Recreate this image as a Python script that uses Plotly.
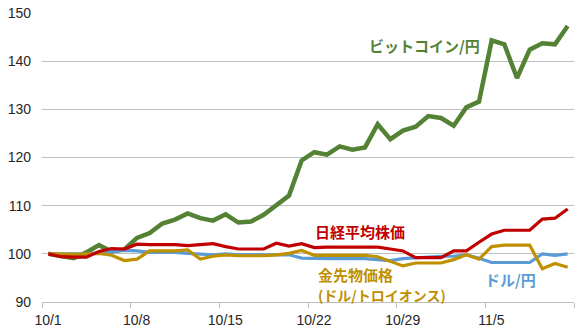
import pandas as pd
import plotly.graph_objects as go

# Daily index values (10/1 = 100), 10/1 through 11/11
dates = pd.date_range("2017-10-01", "2017-11-11", freq="D")

bitcoin_jpy = [100.0, 99.5, 99.1, 100.3, 101.8, 100.5, 100.9, 103.3, 104.3, 106.3,
               107.1, 108.4, 107.4, 106.9, 108.2, 106.5, 106.7, 108.1, 110.2, 112.1,
               119.4, 121.1, 120.6, 122.3, 121.6, 122.1, 126.9, 123.8, 125.6, 126.4,
               128.6, 128.2, 126.6, 130.4, 131.6, 144.3, 143.5, 136.5, 142.4, 143.7,
               143.5, 147.3]
nikkei = [100.0, 99.4, 99.3, 99.3, 100.5, 101.1, 101.0, 102.0, 101.9, 101.9,
          101.9, 101.7, 101.9, 102.1, 101.5, 101.0, 101.0, 101.0, 102.2, 101.6,
          102.1, 101.3, 101.4, 101.4, 101.4, 101.4, 101.4, 101.0, 100.6, 99.2,
          99.2, 99.2, 100.6, 100.6, 102.4, 104.1, 104.9, 104.9, 104.9, 107.2,
          107.4, 109.3]
usd_jpy = [100.0, 100.0, 100.0, 100.0, 100.2, 100.5, 100.7, 100.6, 100.3, 100.3,
           100.3, 100.1, 100.0, 99.8, 100.0, 99.8, 99.8, 99.8, 99.8, 99.8,
           99.1, 99.0, 99.0, 99.0, 99.0, 99.0, 98.8, 98.6, 99.0, 99.2,
           99.4, 99.5, 99.5, 99.8, 99.1, 98.2, 98.2, 98.2, 98.2, 100.0,
           99.7, 100.0]
gold_usd = [100.0, 99.9, 99.9, 100.0, 100.1, 99.7, 98.6, 98.9, 100.6, 100.6,
            100.6, 100.8, 98.9, 99.5, 99.8, 99.6, 99.6, 99.6, 99.8, 100.1,
            100.7, 99.7, 99.7, 99.7, 99.7, 99.7, 99.4, 98.4, 97.5, 98.1,
            98.1, 98.1, 98.8, 99.8, 98.9, 101.5, 101.8, 101.8, 101.8, 96.9,
            98.0, 97.2]

tick_dates = ["2017-10-01", "2017-10-08", "2017-10-15", "2017-10-22",
              "2017-10-29", "2017-11-05", "2017-11-12"]
tick_labels = ["10/1", "10/8", "10/15", "10/22", "10/29", "11/5", ""]

GREEN = "#548235"
RED = "#c00000"
GOLD = "#bf9000"
BLUE = "#5b9bd5"
GRID = "#bfbfbf"

# each day's point sits in the middle of its day slot
xs = dates + pd.Timedelta(hours=12)

fig = go.Figure()
fig.add_trace(go.Scatter(x=xs, y=bitcoin_jpy, mode="lines", name="ビットコイン/円",
                         line=dict(color=GREEN, width=4.5)))
fig.add_trace(go.Scatter(x=xs, y=usd_jpy, mode="lines", name="ドル/円",
                         line=dict(color=BLUE, width=3.2)))
fig.add_trace(go.Scatter(x=xs, y=gold_usd, mode="lines", name="金先物価格",
                         line=dict(color=GOLD, width=3.2)))
fig.add_trace(go.Scatter(x=xs, y=nikkei, mode="lines", name="日経平均株価",
                         line=dict(color=RED, width=3.2)))

cjk = "Noto Sans CJK JP"


def label(text, x, y, color, size=15, align="left"):
    fig.add_annotation(text=text, x=x, y=y, xref="paper", yref="paper",
                       xanchor="left", yanchor="middle", showarrow=False,
                       align=align,
                       font=dict(family=cjk, size=size, color=color, weight="bold"))


label("ビットコイン/円", 0.611, 0.889, GREEN)
label("日経平均株価", 0.510, 0.243, RED)
label("金先物価格<br><span style='font-size:14px'>(ドル/トロイオンス)</span>",
      0.515, 0.060, GOLD)
label("ドル/円", 0.829, 0.0785, BLUE)

fig.update_layout(
    width=580, height=330,
    margin=dict(l=42, r=6, t=13, b=28),
    paper_bgcolor="white", plot_bgcolor="white",
    showlegend=False,
    font=dict(family="Liberation Sans, Arial, sans-serif", size=14, color="#262626"),
)
fig.update_xaxes(
    type="date", automargin=False,
    range=["2017-10-01", "2017-11-12"],
    tickmode="array", tickvals=tick_dates, ticktext=tick_labels,
    ticklabelshift=6, ticklabelstandoff=0,
    showgrid=False, zeroline=False,
    showline=True, linecolor=GRID, linewidth=1,
    ticks="outside", ticklen=5, tickcolor=GRID, tickwidth=1,
)
fig.update_yaxes(
    automargin=False,
    range=[90, 150], dtick=10,
    showgrid=True, gridcolor=GRID, gridwidth=1,
    zeroline=False, showline=False, ticks="",
    ticklabelstandoff=10,
)

fig.write_html("out.html")
